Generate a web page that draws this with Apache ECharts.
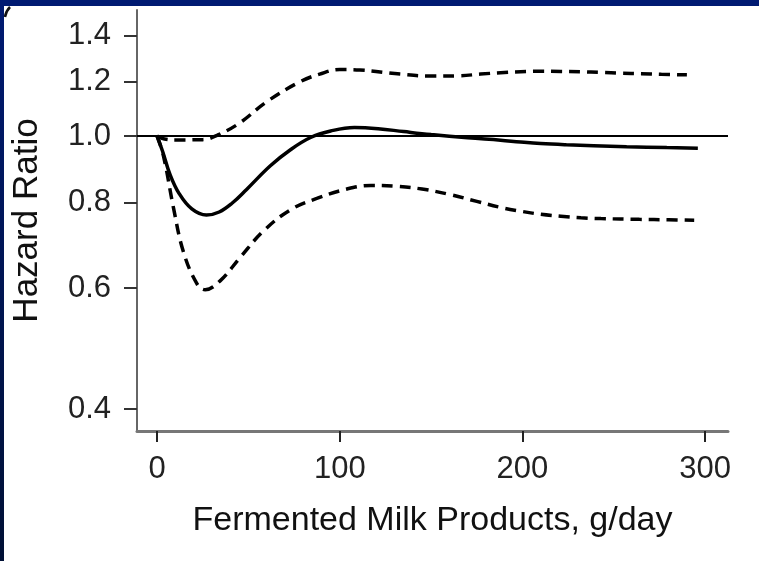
<!DOCTYPE html>
<html>
<head>
<meta charset="utf-8">
<script src="https://cdn.jsdelivr.net/npm/echarts@6/dist/echarts.min.js"></script>
<style>
  html, body { margin: 0; padding: 0; background: #fff; }
  #main { width: 759px; height: 561px; }
</style>
</head>
<body>
<div id="main"></div>
<script>
// 横轴刻度与纵轴刻度（风险比）
var xTicks = [0, 100, 200, 300];
var yTicks = [0.4, 0.6, 0.8, 1.0, 1.2, 1.4];

// 估计值（实线）
var estX = [0, 3, 7, 12, 19, 27, 34, 41, 49, 62, 73, 84, 95, 108, 121, 135, 150, 170, 188, 199, 210, 224, 239, 257, 279, 296];
var estHR = [1.0, 0.95, 0.88, 0.825, 0.783, 0.767, 0.775, 0.798, 0.836, 0.905, 0.955, 0.995, 1.017, 1.029, 1.025, 1.015, 1.005, 0.994, 0.986, 0.980, 0.975, 0.971, 0.968, 0.965, 0.962, 0.960];

// 95%置信区间上限（虚线）
var upX = [0, 4, 10, 25, 33, 45, 60, 78, 89, 100, 111, 133, 150, 165, 177, 188, 199, 210, 221, 232, 243, 254, 265, 276, 290];
var upHR = [1.0, 0.99, 0.987, 0.988, 1.003, 1.044, 1.122, 1.199, 1.231, 1.250, 1.248, 1.231, 1.223, 1.224, 1.231, 1.237, 1.241, 1.243, 1.242, 1.241, 1.238, 1.235, 1.233, 1.230, 1.228];

// 95%置信区间下限（虚线）
var lowX = [0, 3.5, 9, 14.4, 21.7, 26.3, 34.5, 45.4, 58.2, 72.8, 87.4, 103.8, 117, 130, 145, 160, 175, 188, 199, 210, 221, 232, 243, 264, 280, 294];
var lowHR = [1.0, 0.935, 0.785, 0.678, 0.610, 0.597, 0.615, 0.665, 0.727, 0.780, 0.811, 0.837, 0.847, 0.845, 0.837, 0.822, 0.803, 0.787, 0.777, 0.769, 0.764, 0.760, 0.758, 0.756, 0.755, 0.754];

var refHR = 1.0;

function toPts(xs, hrs) {
	var out = [];
	for (var i = 0; i < xs.length; i++) {
		out.push([xs[i], Math.log(hrs[i])]);
	}
	return out;
}

var logTicks = yTicks.map(function(v) { return Math.log(v); });

var myChart = echarts.init(document.getElementById('main'));

var option = {
	backgroundColor: '#ffffff',
	animation: false,
	graphic: [
		{
			type: 'rect',
			shape: { x: 0, y: 0, width: 759, height: 6 },
			style: { fill: '#001a72' },
			silent: true
		},
		{
			type: 'rect',
			shape: { x: 0, y: 0, width: 4, height: 561 },
			style: {
				fill: new echarts.graphic.LinearGradient(0, 0, 0, 1, [
					{ offset: 0, color: '#001a72' },
					{ offset: 1, color: '#001035' }
				])
			},
			silent: true
		},
		{
			// 左上角残留的字迹
			type: 'bezierCurve',
			shape: { x1: 5, y1: 17, x2: 10, y2: 7, cpx1: 6, cpy1: 11 },
			style: { stroke: '#111', lineWidth: 2.5, fill: null },
			silent: true
		}
	],
	grid: {
		left: 137,
		right: 31,
		top: 10,
		bottom: 130
	},
	xAxis: {
		type: 'value',
		min: -11,
		max: 312.5,
		name: 'Fermented Milk Products, g/day',
		nameLocation: 'middle',
		nameGap: 73,
		nameTextStyle: {
			fontFamily: 'Liberation Sans',
			fontSize: 34,
			color: '#111'
		},
		splitLine: { show: false },
		axisLine: {
			show: true,
			onZero: false,
			lineStyle: { color: '#777', width: 3 }
		},
		axisTick: {
			show: true,
			length: 11,
			customValues: xTicks,
			lineStyle: { color: '#222', width: 2 }
		},
		axisLabel: {
			customValues: xTicks,
			margin: 23,
			fontFamily: 'Liberation Sans',
			fontSize: 31,
			color: '#222'
		}
	},
	yAxis: {
		type: 'value',
		min: -0.99,
		max: 0.423,
		name: 'Hazard Ratio',
		nameLocation: 'middle',
		nameRotate: 90,
		nameGap: 92,
		nameTextStyle: {
			fontFamily: 'Liberation Sans',
			fontSize: 35,
			color: '#111'
		},
		splitLine: { show: false },
		axisLine: {
			show: true,
			onZero: false,
			lineStyle: { color: '#666', width: 2 }
		},
		axisTick: {
			show: true,
			length: 13,
			customValues: logTicks,
			lineStyle: { color: '#333', width: 2 }
		},
		axisLabel: {
			customValues: logTicks,
			margin: 26,
			fontFamily: 'Liberation Sans',
			fontSize: 31,
			color: '#222',
			formatter: function(v) {
				return Math.exp(v).toFixed(1);
			}
		}
	},
	series: [
		{
			name: 'HR',
			type: 'line',
			data: toPts(estX, estHR),
			smooth: 0.4,
			showSymbol: false,
			lineStyle: { color: '#000', width: 3.5 },
			markLine: {
				silent: true,
				symbol: ['none', 'none'],
				label: { show: false },
				lineStyle: { color: '#000', width: 2, type: 'solid' },
				data: [{ yAxis: Math.log(refHR) }]
			}
		},
		{
			name: 'upper',
			type: 'line',
			data: toPts(upX, upHR),
			smooth: 0.4,
			showSymbol: false,
			lineStyle: { color: '#000', width: 3.5, type: [11, 7] }
		},
		{
			name: 'lower',
			type: 'line',
			data: toPts(lowX, lowHR),
			smooth: 0.4,
			showSymbol: false,
			lineStyle: { color: '#000', width: 3.5, type: [11, 7] }
		}
	]
};

myChart.setOption(option);
</script>
</body>
</html>
